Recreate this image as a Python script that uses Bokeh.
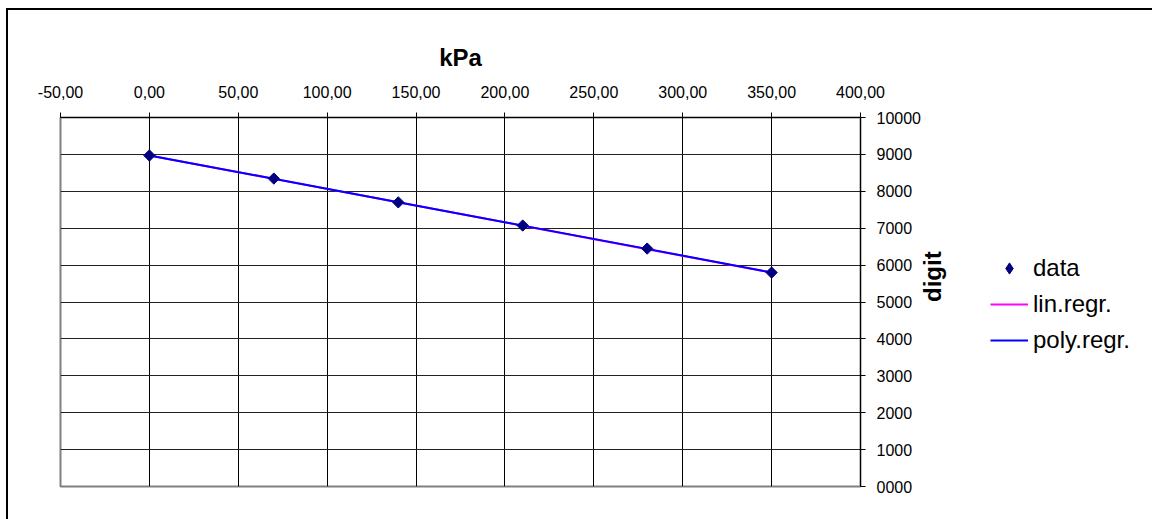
import math
from bokeh.plotting import figure
from bokeh.layouts import row
from bokeh.models import (Range1d, FixedTicker, PrintfTickFormatter, Legend, LegendItem)
from bokeh.embed import file_html
from bokeh.resources import INLINE

# ---- data ----
kpa = [0, 70, 140, 210, 280, 350]
digit = [8970, 8345, 7700, 7072, 6448, 5798]
lin_regr = [8972, 8337, 7702, 7067, 6432, 5797]
poly_regr = [8970, 8340, 7705, 7070, 6440, 5798]

x_ticks = [-50, 0, 50, 100, 150, 200, 250, 300, 350, 400]
x_tick_labels = ["-50,00", "0,00", "50,00", "100,00", "150,00", "200,00",
                 "250,00", "300,00", "350,00", "400,00"]
y_ticks = [0, 1000, 2000, 3000, 4000, 5000, 6000, 7000, 8000, 9000, 10000]
series_names = ["data", "lin.regr.", "poly.regr."]

FONT = "Liberation Sans"
NAVY = "#000080"

p = figure(width=970, height=519, output_backend="svg", toolbar_location=None,
           x_range=Range1d(-50, 400), y_range=Range1d(0, 10000),
           x_axis_location="above", y_axis_location="right",
           min_border_left=60, min_border_right=110, min_border_top=117,
           min_border_bottom=33)
p.background_fill_color = "white"
p.border_fill_color = None
p.outline_line_color = "#808080"
p.outline_line_width = 2

# x axis (top)
xa = p.xaxis[0]
xa.ticker = FixedTicker(ticks=x_ticks)
xa.major_label_overrides = {t: l for t, l in zip(x_ticks, x_tick_labels)}
xa.axis_label = "kPa"
xa.axis_label_text_font = FONT
xa.axis_label_text_font_style = "bold"
xa.axis_label_text_font_size = "24px"
xa.axis_label_text_color = "black"
xa.axis_label_standoff = 12
xa.major_label_text_font = FONT
xa.major_label_text_font_size = "16px"
xa.major_label_text_color = "black"
xa.major_label_standoff = 15
xa.major_tick_out = 5
xa.major_tick_in = 0
xa.minor_tick_line_color = None
xa.axis_line_color = "black"
xa.major_tick_line_color = "black"

# y axis (right)
ya = p.yaxis[0]
ya.ticker = FixedTicker(ticks=y_ticks)
ya.formatter = PrintfTickFormatter(format="%04d")
ya.axis_label = "digit"
ya.axis_label_orientation = math.pi / 2
ya.axis_label_text_font = FONT
ya.axis_label_text_font_style = "bold"
ya.axis_label_text_font_size = "24px"
ya.axis_label_text_color = "black"
ya.axis_label_standoff = 9
ya.major_label_text_font = FONT
ya.major_label_text_font_size = "16px"
ya.major_label_text_color = "black"
ya.major_label_standoff = 11
ya.major_tick_out = 5
ya.major_tick_in = 0
ya.minor_tick_line_color = None
ya.axis_line_color = "black"
ya.major_tick_line_color = "black"

p.xgrid.grid_line_color = "black"
p.ygrid.grid_line_color = "#222222"
p.xgrid.grid_line_width = 1
p.ygrid.grid_line_width = 1

p.line(kpa, lin_regr, line_color="#FF00FF", line_width=2)
p.line(kpa, poly_regr, line_color="#0000FF", line_width=2)
p.scatter(kpa, digit, marker="square", angle=math.pi / 4, size=8,
          fill_color=NAVY, line_color=NAVY)

# ---- legend panel (separate small figure, legend glyphs only) ----
leg = figure(width=182, height=519, output_backend="svg", toolbar_location=None,
             x_range=Range1d(0, 1), y_range=Range1d(0, 1),
             x_axis_type=None, y_axis_type=None,
             min_border_left=0, min_border_right=0, min_border_top=0,
             min_border_bottom=0)
leg.outline_line_color = None
leg.background_fill_color = None
leg.border_fill_color = None
leg.xgrid.visible = False
leg.ygrid.visible = False
# off-range stand-ins so that the legend can draw each series' symbol
lg_data = leg.scatter([5], [5], marker="diamond", size=11,
                      fill_color=NAVY, line_color=NAVY)
lg_lin = leg.line([5, 6], [5, 5], line_color="#FF00FF", line_width=2)
lg_poly = leg.line([5, 6], [5, 5], line_color="#0000FF", line_width=2)

legend = Legend(items=[
    LegendItem(label=series_names[0], renderers=[lg_data]),
    LegendItem(label=series_names[1], renderers=[lg_lin]),
    LegendItem(label=series_names[2], renderers=[lg_poly]),
], location=(20, 128))
legend.label_text_font = FONT
legend.label_text_font_size = "24px"
legend.label_text_color = "black"
legend.glyph_width = 38
legend.glyph_height = 28
legend.label_height = 36
legend.spacing = 0
legend.label_standoff = 5
legend.padding = 0
legend.margin = 0
legend.border_line_color = None
legend.background_fill_alpha = 0
leg.add_layout(legend, "center")

lay = row(p, leg)
lay.styles = {
    "background": "linear-gradient(black, black) 6px 8px / 2px 100% no-repeat, "
                  "linear-gradient(black, black) 6px 8px / 100% 2px no-repeat, white"
}

open("out.html", "w").write(file_html(lay, INLINE))
